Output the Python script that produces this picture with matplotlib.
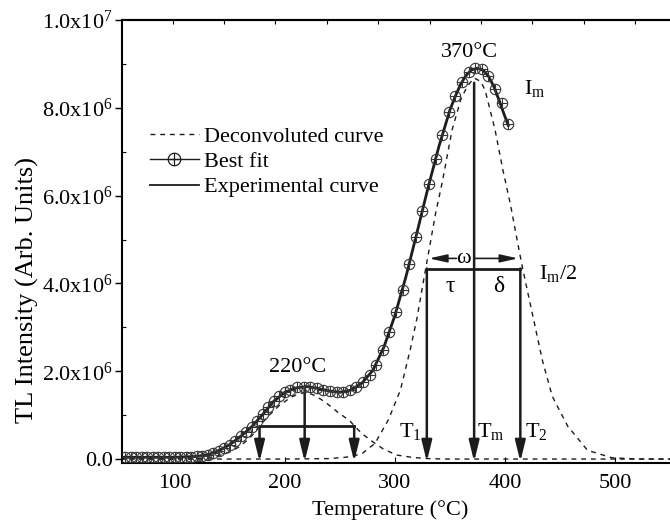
import numpy as np
import matplotlib
matplotlib.use("Agg")
import matplotlib.pyplot as plt
from matplotlib.lines import Line2D

plt.rcParams['font.family'] = ['Liberation Serif', 'DejaVu Serif']
plt.rcParams['mathtext.fontset'] = 'custom'
plt.rcParams['mathtext.rm'] = 'Liberation Serif'
plt.rcParams['mathtext.it'] = 'Liberation Serif:italic'
plt.rcParams['font.size'] = 16

INK = '#1c1c1c'

# best fit points (temperature in C, intensity in units of 1e6)
fit_t = [55, 60, 65, 70, 75, 80, 85, 90, 95, 100, 105, 110, 115, 120, 125, 130,
         135, 140, 145, 150, 155, 160, 165, 170, 175, 180, 185, 190, 195, 200, 205,
         211, 217, 223, 229, 235, 241, 247, 253, 259, 265, 271, 277, 283, 289, 295,
         301, 307, 313, 319, 325, 331, 337, 343, 349, 355, 361, 367, 373, 379, 385,
         391, 397, 403]
fit_i = [0.05, 0.05, 0.05, 0.05, 0.05, 0.05, 0.05, 0.05, 0.05, 0.05, 0.05, 0.05, 0.05, 0.06, 0.07, 0.10,
         0.14, 0.19, 0.25, 0.33, 0.42, 0.52, 0.62, 0.73, 0.86, 1.02, 1.18, 1.32, 1.43, 1.52, 1.58,
         1.63, 1.65, 1.64, 1.61, 1.57, 1.54, 1.52, 1.53, 1.57, 1.64, 1.75, 1.92, 2.14, 2.48, 2.90,
         3.35, 3.86, 4.45, 5.05, 5.66, 6.27, 6.84, 7.39, 7.90, 8.27, 8.59, 8.82, 8.90, 8.88, 8.73,
         8.43, 8.10, 7.64]

# experimental curve
exp_t = [50, 60, 70, 80, 90, 100, 110, 120, 130, 140, 150, 160, 170, 180, 190, 200,
         210, 220, 230, 240, 250, 260, 270, 280, 290, 300, 310, 320, 330, 340, 350,
         355, 360, 365, 370, 375, 380, 385, 390, 395, 400, 403]
exp_i = [0.04, 0.04, 0.04, 0.04, 0.04, 0.04, 0.05, 0.06, 0.10, 0.19, 0.33, 0.52, 0.74, 1.02, 1.32, 1.52,
         1.62, 1.65, 1.61, 1.55, 1.52, 1.57, 1.73, 2.02, 2.55, 3.27, 4.15, 5.15, 6.17, 7.12, 7.95,
         8.27, 8.55, 8.75, 8.87, 8.90, 8.86, 8.72, 8.48, 8.15, 7.80, 7.60]

# deconvoluted peak 1 (220 C)
dc1_t = [50, 100, 120, 130, 140, 150, 160, 170, 177, 185, 195, 205, 213, 220, 228,
         238, 248, 259, 263, 270, 280, 290, 302, 315, 330, 345, 550]
dc1_i = [0.0, 0.0, 0.01, 0.03, 0.08, 0.16, 0.30, 0.53, 0.75, 0.98, 1.22, 1.40, 1.49, 1.52, 1.44,
         1.27, 1.07, 0.87, 0.76, 0.58, 0.39, 0.22, 0.09, 0.04, 0.01, 0.0, 0.0]

# deconvoluted peak 2 (370 C)
dc2_t = [50, 200, 240, 255, 262, 270, 282, 294, 305, 314, 320, 327, 332, 337, 343,
         352, 360, 366, 372, 378, 382, 391, 398, 405, 411, 416, 425, 434, 443, 457,
         475, 497, 520, 550]
dc2_i = [0.0, 0.0, 0.01, 0.04, 0.07, 0.12, 0.36, 0.89, 1.57, 2.50, 3.20, 4.20, 4.90, 5.60, 6.30,
         7.50, 8.20, 8.50, 8.68, 8.60, 8.40, 7.50, 6.60, 5.80, 5.00, 4.35, 3.30, 2.25, 1.43, 0.75,
         0.20, 0.03, 0.0, 0.0]

# peak shape parameters: (T1, Tm, T2, top of Tm line, half height)
peak1 = (177, 218, 263, 1.61, 0.75)
peak2 = (329, 372, 414, 8.57, 4.34)

ytick_vals = [0, 2e6, 4e6, 6e6, 8e6, 1e7]
ytick_labels = ['0.0', '2.0x10$^{6}$', '4.0x10$^{6}$', '6.0x10$^{6}$', '8.0x10$^{6}$', '1.0x10$^{7}$']
xtick_vals = [100, 200, 300, 400, 500]

S = 1e6

fig = plt.figure(figsize=(6.7, 5.26), dpi=100)
ax = fig.add_axes([122 / 670, 1 - 463 / 526, 548 / 670, 443 / 526])

dash = dict(color=INK, lw=1.0, dashes=(3.5, 3.5))
ax.plot(dc1_t, np.array(dc1_i) * S, **dash)
ax.plot(dc2_t, np.array(dc2_i) * S, **dash)

ax.plot(exp_t, np.array(exp_i) * S, color=INK, lw=2.0, zorder=4)
ax.plot(fit_t, np.array(fit_i) * S, ls='none', marker='o', ms=7.5, mfc='none',
        mec='#333333', mew=0.8, zorder=5)
ax.plot(fit_t, np.array(fit_i) * S, ls='none', marker='+', ms=7.5,
        mec='#333333', mew=0.8, zorder=5)

arrow_kw = dict(arrowstyle='-|>,head_length=0.9,head_width=0.22', color=INK, lw=1.8,
                shrinkA=0, shrinkB=0, mutation_scale=14)
for t1, tm, t2, top, half in (peak1, peak2):
    ax.plot([t1, t2], [half * S, half * S], color=INK, lw=2.0)
    for t, y0 in ((t1, half), (tm, top), (t2, half)):
        ax.annotate('', xy=(t, -0.06 * S), xytext=(t, y0 * S), arrowprops=arrow_kw)

# omega arrows
om_y = 4.57 * S
ax.annotate('', xy=(peak2[0] + 2, om_y), xytext=(356, om_y),
            arrowprops=dict(arrowstyle='-|>,head_length=0.9,head_width=0.2', color=INK,
                            lw=1.2, shrinkA=0, shrinkB=0, mutation_scale=12))
ax.annotate('', xy=(peak2[2] - 2, om_y), xytext=(peak2[1], om_y),
            arrowprops=dict(arrowstyle='-|>,head_length=0.9,head_width=0.2', color=INK,
                            lw=1.2, shrinkA=0, shrinkB=0, mutation_scale=12))
ax.text(362, om_y, 'ω', ha='center', va='center', fontsize=16)

ax.text(350, 3.93 * S, 'τ', ha='center', va='center', fontsize=17)
ax.text(394, 3.93 * S, 'δ', ha='center', va='center', fontsize=17)
ax.text(431, 4.22 * S, 'I$_\\mathrm{m}$/2', ha='left', va='center', fontsize=16)
ax.text(417, 8.45 * S, 'I$_\\mathrm{m}$', ha='left', va='center', fontsize=16)
ax.text(368, 9.27 * S, '370°C', ha='center', va='center', fontsize=16)
ax.text(212, 2.08 * S, '220°C', ha='center', va='center', fontsize=16)
ax.text(304, 0.62 * S, 'T$_1$', ha='left', va='center', fontsize=16)
ax.text(375, 0.62 * S, 'T$_\\mathrm{m}$', ha='left', va='center', fontsize=16)
ax.text(418, 0.62 * S, 'T$_2$', ha='left', va='center', fontsize=16)

ax.set_xlim(52, 550)
ax.set_ylim(-0.09 * S, 1.0e7)
ax.set_xticks(xtick_vals)
ax.set_yticks(ytick_vals)
ax.set_yticklabels(ytick_labels)
ax.set_yticks([1e6, 3e6, 5e6, 7e6, 9e6], minor=True)
ax.tick_params(axis='y', which='major', direction='out', length=5, width=1.0, pad=1.5,
               labelsize=16)
ax.tick_params(axis='y', which='minor', direction='in', length=3, width=0.8)
ax.tick_params(axis='x', which='major', direction='in', length=4, width=0.8, pad=8,
               labelsize=16)

top = ax.secondary_xaxis('top')
top.set_xticks(np.arange(98, 550, 46.7))
top.tick_params(direction='in', length=3, width=0.8, labeltop=False)
top.spines['top'].set_linewidth(1.5)

for side in ('left', 'bottom', 'top'):
    ax.spines[side].set_linewidth(1.5)
ax.spines['right'].set_visible(False)

ax.set_xlabel('Temperature (°C)', fontsize=16)
ax.set_ylabel('TL Intensity (Arb. Units)', fontsize=19)
ax.xaxis.set_label_coords(0.489, -0.083)
ax.yaxis.set_label_coords(-0.152, 0.39)

handles = [
    Line2D([], [], **dash),
    (Line2D([], [], color=INK, lw=1.0),
     Line2D([], [], ls='none', marker='o', ms=9, mfc='none', mec=INK, mew=0.9),
     Line2D([], [], ls='none', marker='+', ms=9, mec=INK, mew=0.9)),
    Line2D([], [], color=INK, lw=1.3),
]
ax.legend(handles, ['Deconvoluted curve', 'Best fit', 'Experimental curve'],
          loc='upper left', bbox_to_anchor=(150 / 670, 1 - 126 / 526),
          bbox_transform=fig.transFigure, frameon=False, fontsize=16,
          handlelength=2.2, handletextpad=0.25, labelspacing=0.22,
          borderpad=0, borderaxespad=0)

fig.savefig('out.png', dpi=100)
